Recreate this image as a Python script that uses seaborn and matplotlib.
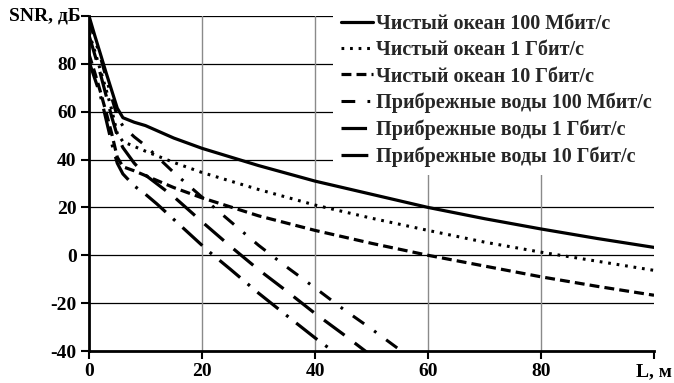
import numpy as np
import pandas as pd
import matplotlib
matplotlib.use("Agg")
import matplotlib.pyplot as plt
import seaborn as sns

# ---- data ----
L_clean = [0, 1, 2, 3, 4, 5, 6, 8, 10, 15, 20, 30, 40, 50, 60, 70, 80, 90, 100]
clean_100M = [100, 92, 84.3, 76.5, 69, 61.5, 57.5, 55.6, 54.2, 49, 44.7, 37.5, 31, 25.5, 20, 15.3, 11, 7, 3.3]
clean_1G = [93, 85.5, 77.5, 69.5, 61, 51, 47.5, 45.5, 43.5, 38.8, 34.6, 27.5, 21, 15.5, 10.4, 5.5, 1.3, -2.5, -6.3]
clean_10G = [84, 76.5, 68.5, 60, 51, 41, 37, 35.3, 33.3, 28.3, 24, 16.5, 10.4, 5, 0, -4.5, -9, -13, -16.7]

L_coast_100M = [0, 2, 4, 5, 6, 8, 10, 15, 20, 25, 30, 35, 40, 45, 50, 55, 56]
coast_100M = [98, 83, 66, 58, 54, 49.5, 45.8, 34.6, 24.3, 14.2, 4.2, -4.9, -13.6, -22.5, -30.8, -39.5, -41]
L_coast_1G = [0, 2, 4, 5, 6, 8, 10, 15, 20, 25, 30, 35, 40, 45, 50]
coast_1G = [92, 76, 58, 50, 45, 38.5, 33.5, 24.5, 14, 3.8, -6, -15, -24.3, -33, -42]
L_coast_10G = [0, 2, 4, 5, 6, 8, 10, 12, 15, 18, 21, 25, 30, 35, 40, 44]
coast_10G = [81, 67, 47, 38.5, 34, 29, 25.5, 21.5, 15, 8.5, 2, -5.8, -15.8, -25.2, -34.5, -41.5]

labels = ["Чистый океан 100 Мбит/с", "Чистый океан 1 Гбит/с", "Чистый океан 10 Гбит/с",
          "Прибрежные воды 100 Мбит/с", "Прибрежные воды 1 Гбит/с", "Прибрежные воды 10 Гбит/с"]
xtick_vals = [0, 20, 40, 60, 80, 100]
xtick_labels = ["0", "20", "40", "60", "80", "L, м"]
ytick_vals = [-40, -20, 0, 20, 40, 60, 80, 100]
ytick_labels = ["-40", "-20", "0", "20", "40", "60", "80", ""]
y_title = "SNR, дБ"

sns.set_theme(style="white")
plt.rcParams["font.family"] = ["Liberation Serif", "DejaVu Serif"]
plt.rcParams["font.weight"] = "bold"

fig = plt.figure(figsize=(6.74, 3.83), dpi=100)
ax = fig.add_axes([89/674, 1-351/383, (654-89)/674, (351-16)/383])

series = [
    (L_clean, clean_100M, dict(linewidth=2.3, linestyle="-")),
    (L_clean, clean_1G, dict(linewidth=2.2, linestyle=(0, (0.9, 1.9)))),
    (L_clean, clean_10G, dict(linewidth=2.3, linestyle=(0, (3.1, 1.6)))),
    (L_coast_100M, coast_100M, dict(linewidth=2.2, linestyle=(0, (4.5, 4.0, 0.9, 4.0)))),
    (L_coast_1G, coast_1G, dict(linewidth=2.3, linestyle=(0, (8, 4)))),
    (L_coast_10G, coast_10G, dict(linewidth=2.3, linestyle=(0, (8.4, 3.1, 0.9, 3.1)))),
]
for (xs, ys, kw), lab in zip(series, labels):
    sns.lineplot(x=xs, y=ys, ax=ax, color="black", label=lab, sort=False,
                 estimator=None, **kw)

ax.set_xlim(0, 100)
ax.set_ylim(-40, 100)
ax.set_xticks(xtick_vals)
ax.set_xticklabels(xtick_labels, fontsize=14, fontweight="bold")
ax.set_yticks(ytick_vals)
ax.set_yticklabels(ytick_labels, fontsize=14, fontweight="bold")
ax.set_xlabel("")
ax.set_ylabel("")

# grid: horizontal black, vertical grey
for yv in ytick_vals:
    if yv > -40:
        ax.axhline(yv, color="black", linewidth=0.9, zorder=0.5)
for xv in xtick_vals[1:-1]:
    ax.axvline(xv, color="#8a8a8a", linewidth=1.0, zorder=0.5)

for s in ["top", "right"]:
    ax.spines[s].set_visible(False)
for s in ["left", "bottom"]:
    ax.spines[s].set_color("black")
    ax.spines[s].set_linewidth(2.0)
ax.tick_params(axis="both", direction="out", length=6, width=1.5, color="black",
               pad=3, labelcolor="black", bottom=True, left=True)

ax.text(-0.015, 1.0, y_title, transform=ax.transAxes, ha="right", va="center",
        fontsize=14, fontweight="bold", color="black")

ax.get_legend().remove()
h, l = ax.get_legend_handles_labels()
leg = fig.legend(h, l, loc="upper left", bbox_to_anchor=(333/674, 1 - 6/383),
                 frameon=True, facecolor="white", edgecolor="none", framealpha=1,
                 fancybox=False, borderpad=0.4, borderaxespad=0.0, labelspacing=0.31,
                 handlelength=1.6, handletextpad=0.15, prop=dict(size=14.5, weight="bold"))

fig.savefig("out.png", dpi=100)
